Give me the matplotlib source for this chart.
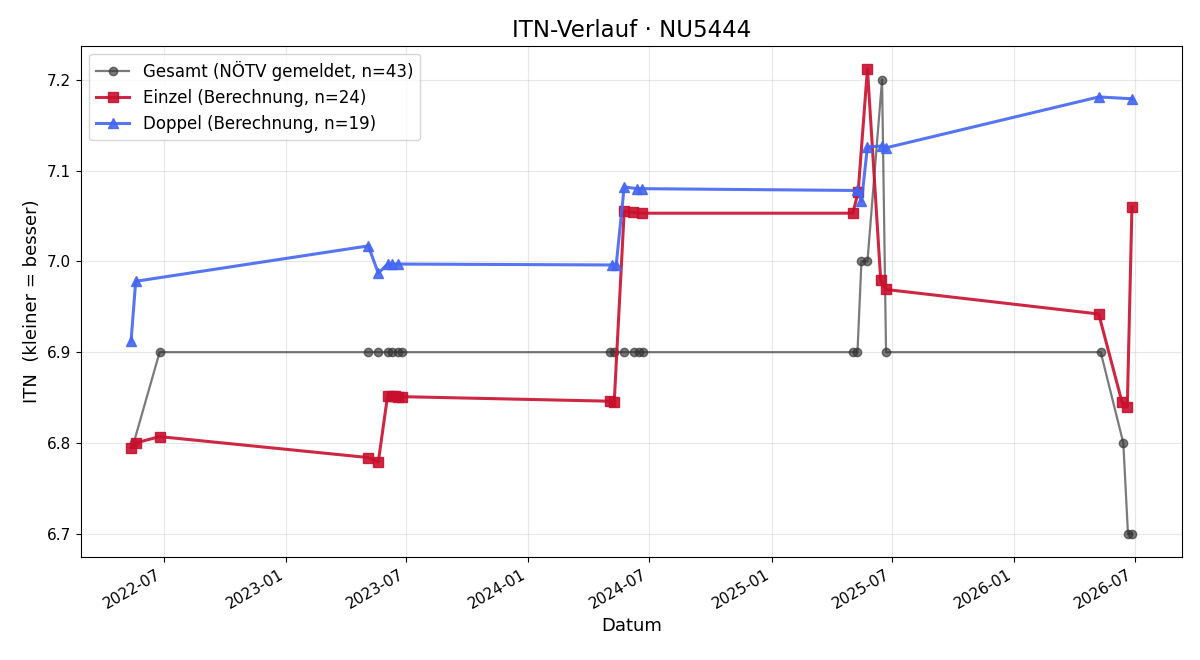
import matplotlib
matplotlib.use("Agg")
import matplotlib.pyplot as plt
import matplotlib.dates as mdates
import pandas as pd

# Gesamt (NÖTV gemeldet)
gesamt_dates = ["2022-05-17", "2022-06-25",
                "2023-05-04", "2023-05-20", "2023-06-03", "2023-06-10", "2023-06-18", "2023-06-24",
                "2024-05-02", "2024-05-09", "2024-05-24", "2024-06-08", "2024-06-15", "2024-06-21",
                "2025-05-04", "2025-05-10", "2025-05-16", "2025-05-25", "2025-06-16", "2025-06-22",
                "2026-05-11", "2026-06-14", "2026-06-21", "2026-06-27"]
gesamt_itn = [6.8, 6.9,
              6.9, 6.9, 6.9, 6.9, 6.9, 6.9,
              6.9, 6.9, 6.9, 6.9, 6.9, 6.9,
              6.9, 6.9, 7.0, 7.0, 7.2, 6.9,
              6.9, 6.8, 6.7, 6.7]

# Einzel (Berechnung)
einzel_dates = ["2022-05-13", "2022-05-20", "2022-06-25",
                "2023-05-04", "2023-05-20", "2023-06-03", "2023-06-10", "2023-06-14", "2023-06-18", "2023-06-24",
                "2024-05-02", "2024-05-09", "2024-05-24", "2024-06-06", "2024-06-20",
                "2025-05-03", "2025-05-11", "2025-05-25", "2025-06-14", "2025-06-22",
                "2026-05-08", "2026-06-12", "2026-06-20", "2026-06-27"]
einzel_itn = [6.795, 6.800, 6.807,
              6.784, 6.779, 6.852, 6.852, 6.852, 6.851, 6.851,
              6.846, 6.845, 7.055, 7.054, 7.053,
              7.053, 7.076, 7.212, 6.979, 6.969,
              6.942, 6.845, 6.840, 7.060]

# Doppel (Berechnung)
doppel_dates = ["2022-05-13", "2022-05-20",
                "2023-05-05", "2023-05-20", "2023-06-03", "2023-06-10", "2023-06-18",
                "2024-05-06", "2024-05-12", "2024-05-24", "2024-06-12", "2024-06-20",
                "2025-05-10", "2025-05-16", "2025-05-25", "2025-06-16", "2025-06-22",
                "2026-05-08", "2026-06-27"]
doppel_itn = [6.912, 6.978,
              7.017, 6.987, 6.997, 6.997, 6.997,
              6.996, 6.996, 7.082, 7.080, 7.080,
              7.078, 7.066, 7.126, 7.127, 7.125,
              7.181, 7.179]

fig, ax = plt.subplots(figsize=(12, 6.6), dpi=100)

ax.plot(pd.to_datetime(gesamt_dates), gesamt_itn, marker='o', color='#333333',
        alpha=0.65, linewidth=1.6, markersize=6, label='Gesamt (NÖTV gemeldet, n=43)')
ax.plot(pd.to_datetime(einzel_dates), einzel_itn, marker='s', color='#c8102e',
        alpha=0.9, linewidth=2.2, markersize=7, label='Einzel (Berechnung, n=24)')
ax.plot(pd.to_datetime(doppel_dates), doppel_itn, marker='^', color='#4466f2',
        alpha=0.9, linewidth=2.2, markersize=7, label='Doppel (Berechnung, n=19)')

ax.set_title('ITN-Verlauf · NU5444', fontsize=16.5)
ax.set_xlabel('Datum', fontsize=13)
ax.set_ylabel('ITN  (kleiner = besser)', fontsize=13)
ax.grid(True, alpha=0.3)
ax.legend(loc='upper left', fontsize=12)

ax.xaxis.set_major_locator(mdates.MonthLocator(bymonth=[1, 7]))
ax.xaxis.set_major_formatter(mdates.DateFormatter('%Y-%m'))
ax.tick_params(labelsize=11)
fig.autofmt_xdate()

fig.subplots_adjust(left=0.0675, right=0.985, top=0.931, bottom=0.156)
plt.savefig('out.png', dpi=100)
